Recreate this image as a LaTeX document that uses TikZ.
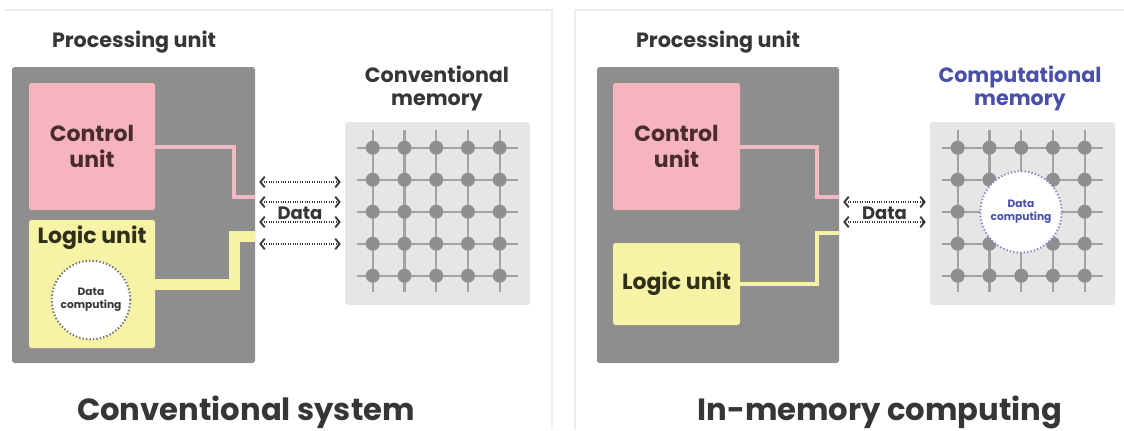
\documentclass[tikz,border=0pt]{standalone}
\usepackage{fontspec}
\setmainfont{Poppins}
\usepackage{xcolor}
\usepackage{tikz}
\usetikzlibrary{arrows.meta}
\definecolor{procgray}{HTML}{8E8E8E}
\definecolor{ctrlpink}{HTML}{F6B5BE}
\definecolor{linkpink}{HTML}{EFBAC2}
\definecolor{logicyellow}{HTML}{F7F3A6}
\definecolor{memgray}{HTML}{E6E6E6}
\definecolor{gridgray}{HTML}{A2A2A2}
\definecolor{dotgray}{HTML}{8F8F8F}
\definecolor{textdark}{HTML}{363636}
\definecolor{ctrltext}{HTML}{4A2C30}
\definecolor{logictext}{HTML}{30301A}
\definecolor{compblue}{HTML}{4A4FA8}
\definecolor{ringblue}{HTML}{8589C4}
\definecolor{ringgray}{HTML}{6E6E6E}
\definecolor{framegray}{HTML}{EDEDED}

\begin{document}
\begin{tikzpicture}[x=0.75pt,y=-0.75pt,
  block/.style={inner sep=0pt,rounded corners=2pt},
  unittext/.style={font=\bfseries\fontsize{16.5}{19.5}\selectfont,align=center},
  heading/.style={text=textdark,font=\bfseries\fontsize{15.5}{17}\selectfont,align=center},
  bigtitle/.style={text=textdark,font=\bfseries\fontsize{23}{26}\selectfont},
  datatext/.style={text=textdark,font=\bfseries\fontsize{13.5}{15}\selectfont},
  smalltext/.style={font=\bfseries\fontsize{8}{10}\selectfont,align=center},
  ring/.style={circle,fill=white,minimum size=59pt,inner sep=0pt,line width=1.5pt,dash pattern=on 1pt off 1.6pt},
  databus/.style={draw=textdark,line width=0.8pt,densely dotted,
    {Straight Barb[length=3.2pt,width=8pt,line width=1.4pt]}-{Straight Barb[length=3.2pt,width=8pt,line width=1.4pt]},
    shorten <=3pt,shorten >=3pt},
  pinklink/.style={draw=linkpink,line width=3pt},
  yellowlink/.style={draw=logicyellow,line width=3pt}]
\useasboundingbox (0,0) rectangle (1124,430);
\draw[framegray,line width=1pt] (4,10) -- (552,10) -- (552,430);
\draw[framegray,line width=1pt] (1124,10) -- (575,10) -- (575,430);

% conventional system
\node[block,fill=procgray,minimum width=182.25pt,minimum height=222pt] (proc) at (133.5,215) {};
\node[block,fill=ctrlpink,minimum width=94.5pt,minimum height=95.25pt] (ctrl) at (92,146.5) {};
\node[block,fill=logicyellow,minimum width=94.5pt,minimum height=96pt] (logic) at (92,284) {};
\node[block,fill=memgray,minimum width=138.75pt,minimum height=137.25pt] (mem) at (437.5,213.5) {};
\node[heading] (proclabel) at (134,42) {Processing unit};
\node[unittext,text=ctrltext] (ctrltxt) at (ctrl.center) {Control\\unit};
\node[unittext,text=logictext] (logictxt) at (92,238) {Logic unit};
\node[heading] (memlabel) at (437,88.5) {Conventional\\memory};
\draw[pinklink] (ctrl.east) -| (234,197) -- (proc.east |- 0,197);
\draw[yellowlink,line width=8.25pt] (logic.east) -| (234,236) -- (proc.east |- 0,236);
\foreach \y in {182,202,222,244} \draw[databus] (proc.east |- 0,\y) -- (mem.west |- 0,\y);
\node[datatext] (data) at (300,213) {Data};
\node[ring,draw=ringgray] (calc) at (91,300) {};
\node[smalltext,text=textdark] (calctxt) at (calc.center) {Data\\computing};
\node[bigtitle] (convtitle) at (246,412) {Conventional system};

% in-memory computing
\node[block,fill=procgray,minimum width=181.5pt,minimum height=222pt] (procim) at (718,215) {};
\node[block,fill=ctrlpink,minimum width=95.25pt,minimum height=95.25pt] (ctrlim) at (676.5,146.5) {};
\node[block,fill=logicyellow,minimum width=95.25pt,minimum height=61.5pt] (logicim) at (676.5,284) {};
\node[block,fill=memgray,minimum width=138.75pt,minimum height=137.25pt] (memim) at (1022.5,213.5) {};
\node[heading] (proclabelim) at (718,42) {Processing unit};
\node[unittext,text=ctrltext] (ctrltxtim) at (ctrlim.center) {Control\\unit};
\node[unittext,text=logictext] (logictxtim) at (logicim.center) {Logic unit};
\node[heading,text=compblue] (memlabelim) at (1020,88.5) {Computational\\memory};
\draw[pinklink] (ctrlim.east) -| (817,197) -- (procim.east |- 0,197);
\draw[yellowlink] (logicim.east) -| (817,233) -- (procim.east |- 0,233);
\foreach \y in {202,222} \draw[databus] (procim.east |- 0,\y) -- (memim.west |- 0,\y);
\node[datatext] (dataim) at (884.5,213) {Data};
\node[bigtitle] (imctitle) at (880,412) {In-memory computing};

% memory grids
\foreach \m in {mem,memim} {
  \begin{scope}[shift={(\m.north west)}]
    \foreach \i in {0,...,4} {
      \draw[gridgray,line width=1.6pt] (28+31.75*\i,8) -- (28+31.75*\i,170);
      \draw[gridgray,line width=1.6pt] (12,26+32*\i) -- (173,26+32*\i);
    }
    \foreach \i in {0,...,4} \foreach \j in {0,...,4}
      \fill[dotgray] (28+31.75*\i,26+32*\j) circle[radius=5.25pt];
  \end{scope}
}
\node[ring,draw=ringblue,minimum size=61pt] (calcim) at (1021,212) {};
\node[smalltext,text=compblue] (calctxtim) at (calcim.center) {Data\\computing};
\end{tikzpicture}
\end{document}
